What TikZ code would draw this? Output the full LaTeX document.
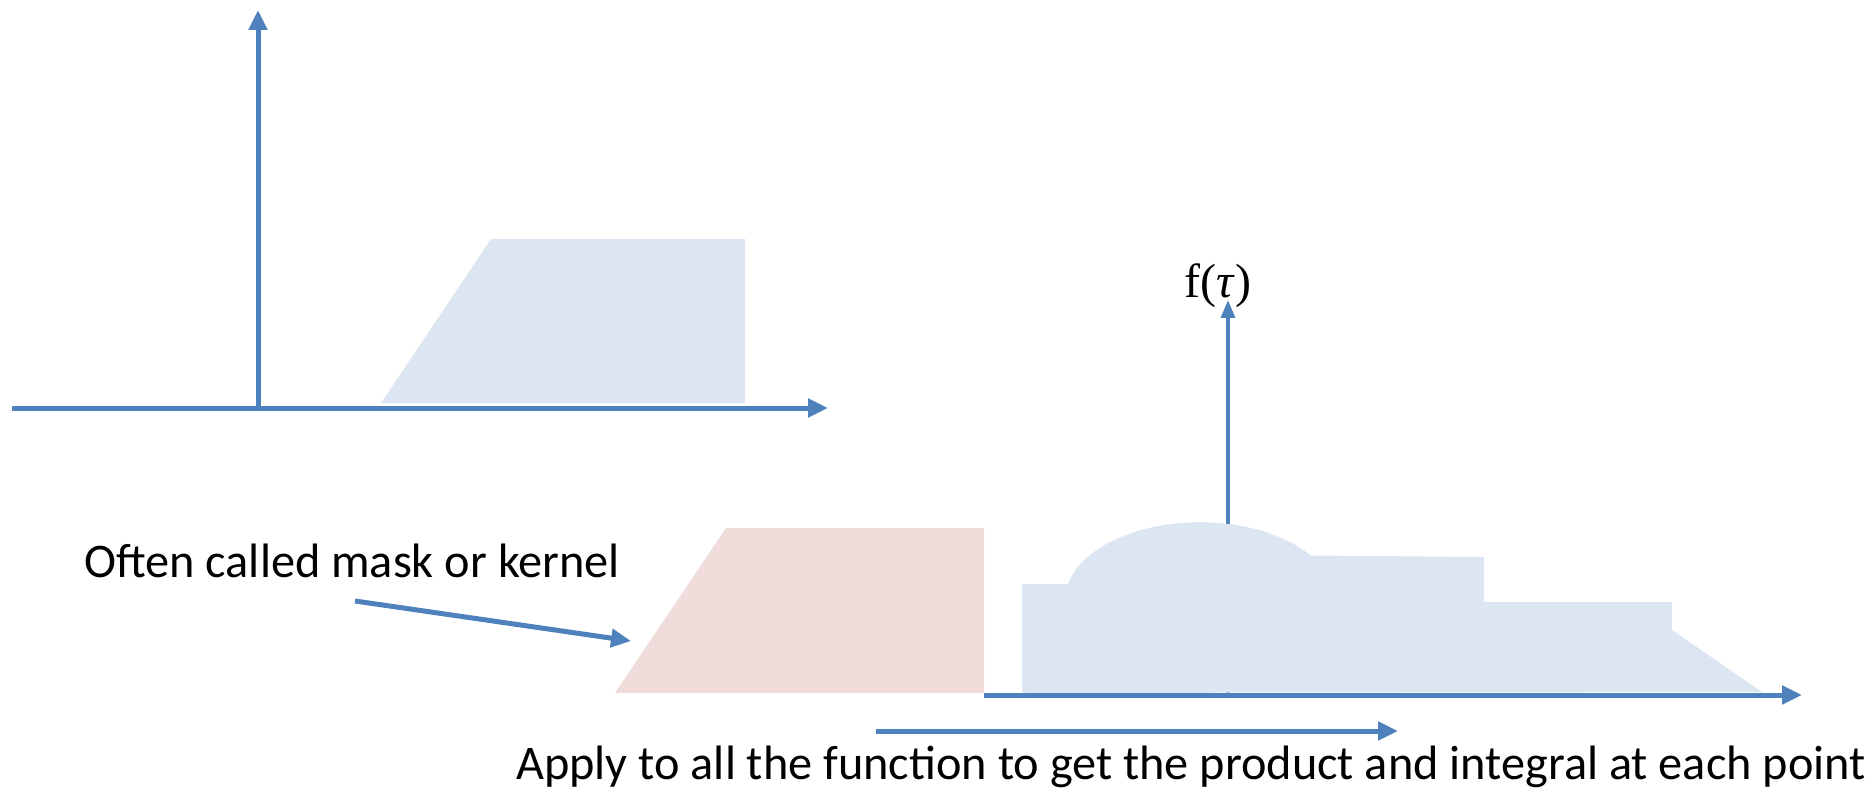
\documentclass[tikz,border=0pt]{standalone}
\usepackage{fontspec}
\newfontfamily\carlito{Carlito}
\newfontfamily\libserif{Liberation Serif}
\usetikzlibrary{arrows.meta}
\definecolor{axisblue}{HTML}{4F81BD}
\definecolor{lightblue}{HTML}{DCE6F2}
\definecolor{lightpink}{HTML}{F0DCDB}
\tikzset{
  axisline/.style={draw=axisblue, line width=5pt, -{Triangle[length=20pt,width=18pt]}},
  thinaxis/.style={draw=axisblue, line width=3.5pt, -{Triangle[length=18pt,width=14pt]}},
  label/.style={font=\carlito\fontsize{48.3pt}{56pt}\selectfont, inner sep=0pt},
}
\begin{document}
\begin{tikzpicture}[x=1pt,y=-1pt]
\useasboundingbox (0,0) rectangle (1873,791);
% top-left graph
\fill[lightblue] (381,403) -- (491,239) -- (745,239) -- (745,403) -- cycle;
\coordinate (o1) at (258,408);
\coordinate (ytip1) at (258,10);
\coordinate (xs1) at (12,408);
\coordinate (xtip1) at (828,408);
\draw[axisline] (o1) -- (ytip1);
\draw[axisline] (xs1) -- (xtip1);
% bottom graph
\fill[lightpink] (615,693) -- (726,528) -- (984,528) -- (984,693) -- cycle;
\coordinate (o2) at (1228,694);
\node[font=\libserif\fontsize{48pt}{56pt}\selectfont, inner sep=0pt, anchor=south] (ftau) at (1218,308) {f(\textit{τ})};
\draw[thinaxis, shorten >=-8pt] (o2) -- (o2 |- ftau.south);
\coordinate (xs2) at (984,695);
\coordinate (xtip2) at (1802,695);
\draw[axisline] (xs2) -- (xtip2);
\fill[lightblue] (1022,693) -- (1022,584) -- (1068,584)
  arc[start angle=192, end angle=325, x radius=135, y radius=78]
  -- (1484,557) -- (1484,602) -- (1672,602) -- (1672,630) -- (1762,692) -- cycle;
% kernel label and arrow
\node[label, anchor=base west] (kern) at (84,577) {Often called mask or kernel};
\coordinate (ka) at (355,601);
\coordinate (kb) at (631,641);
\draw[axisline] (ka) -- (kb);
% move arrow and text
\coordinate (ma) at (876,731);
\coordinate (mb) at (1398,731);
\draw[axisline] (ma) -- (mb);
\node[label, anchor=base west] (apply) at (516,779) {Apply to all the function to get the product and integral at each point};
\end{tikzpicture}
\end{document}
